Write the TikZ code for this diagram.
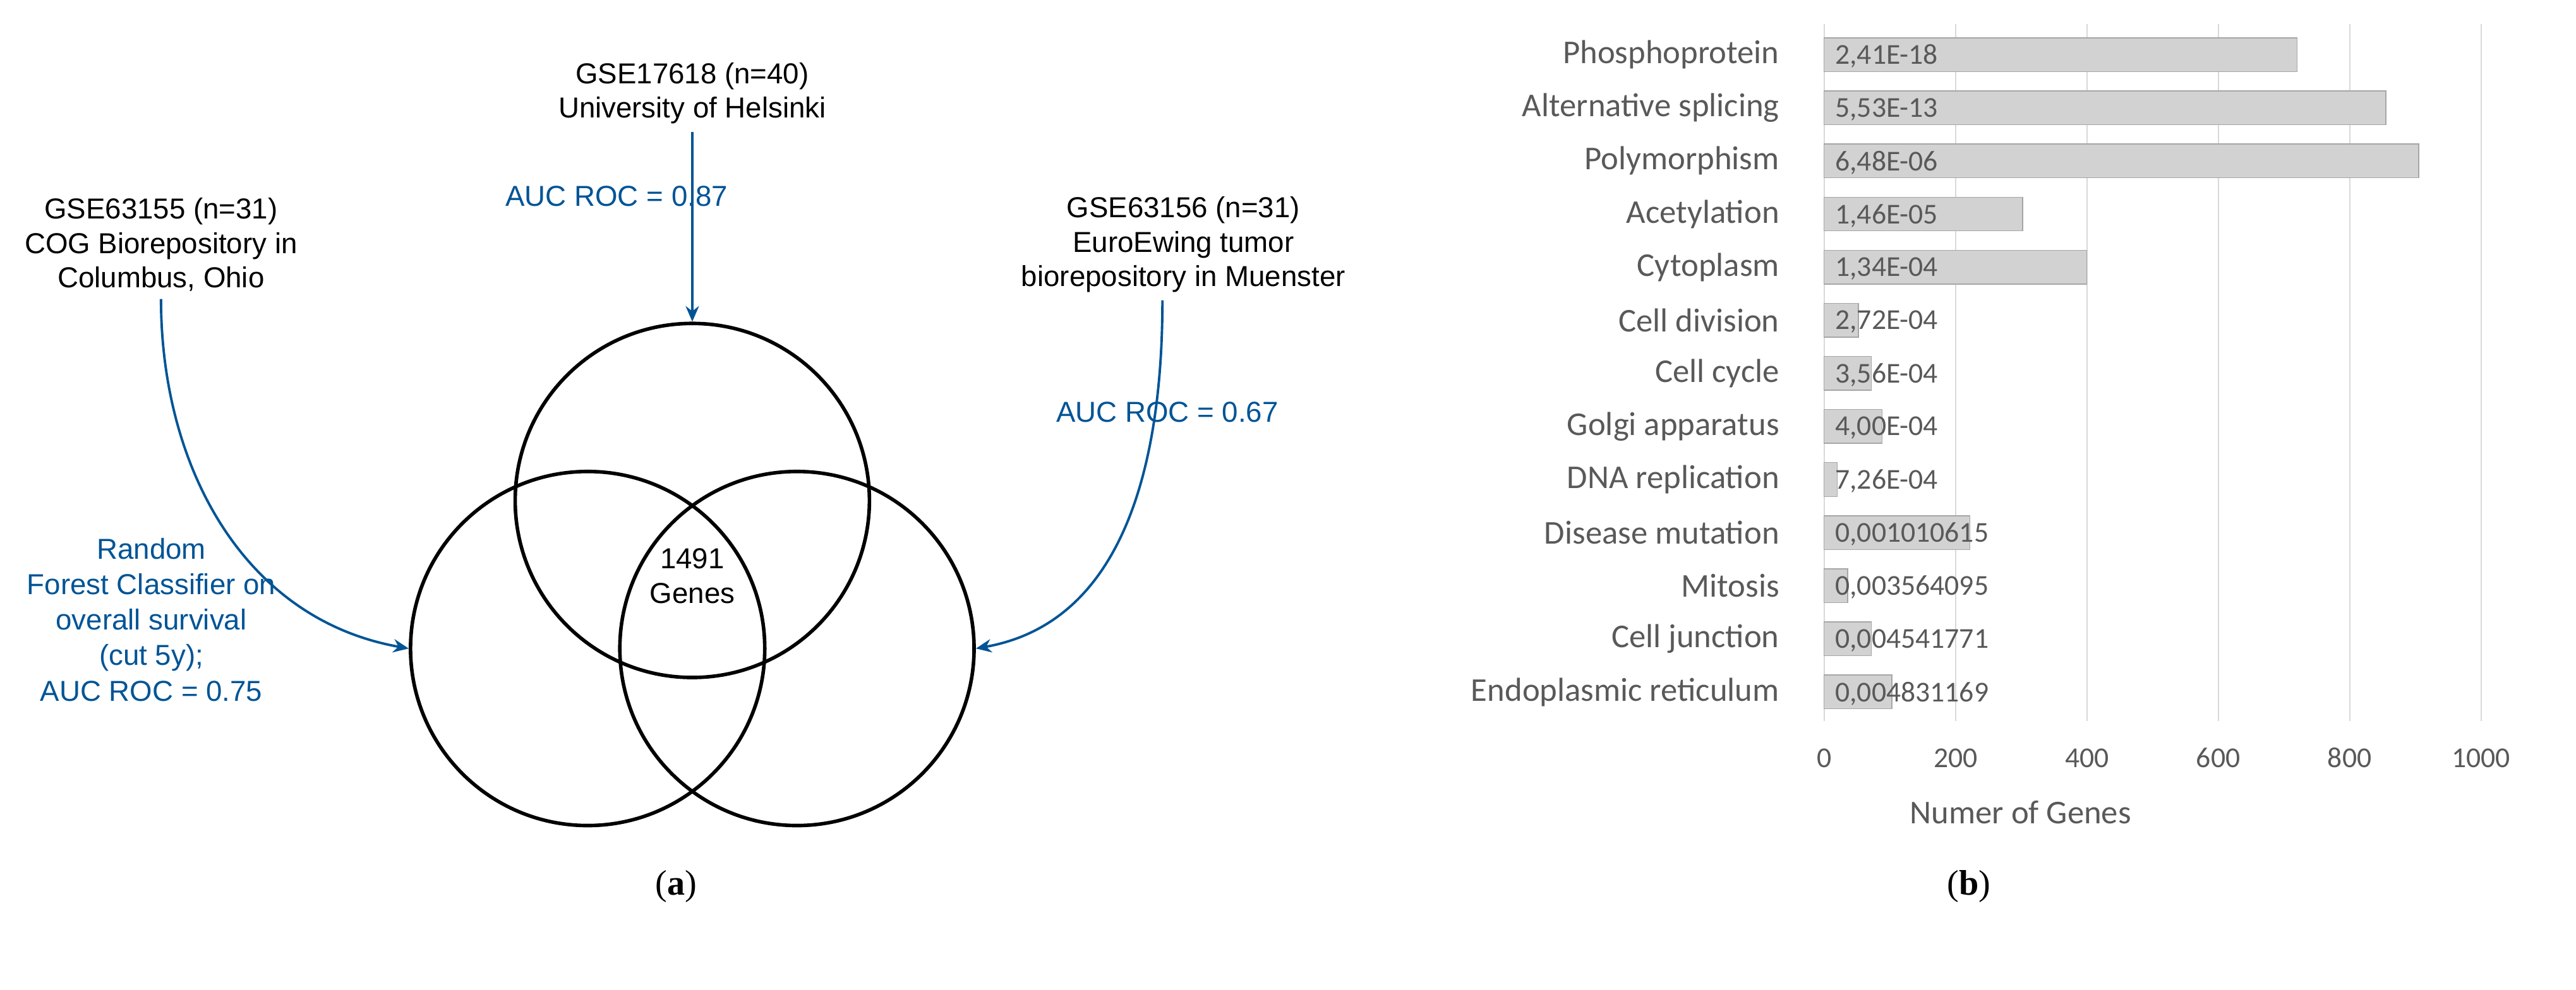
\documentclass[tikz,border=0pt]{standalone}
\usepackage{fontspec}
\setmainfont{Liberation Sans}
\newfontfamily\calfont{Carlito}
\newfontfamily\serffont{Liberation Serif}
\usetikzlibrary{arrows.meta}
\definecolor{aucblue}{RGB}{0,84,150}
\definecolor{axgray}{RGB}{89,89,89}
\tikzset{
  src/.style={align=center,font=\fontsize{13}{15.5}\selectfont},
  auc/.style={align=center,text=aucblue,font=\fontsize{13}{16}\selectfont},
  venn/.style={draw,circle,line width=1.6pt,minimum size=5.61cm},
  flow/.style={draw=aucblue,line width=1.1pt,-{Stealth[length=7pt,width=6pt]}},
  cat/.style={anchor=east,text=axgray,font=\calfont\fontsize{15}{17}\selectfont},
  val/.style={anchor=west,text=axgray,font=\calfont\fontsize{13}{15}\selectfont},
  bar/.style={draw=gray!70,fill=gray!35}
}
\begin{document}
\begin{tikzpicture}[x=0.02549cm,y=-0.02549cm]
\useasboundingbox (0,0) rectangle (1600,615);

% venn diagram
\node[venn] (vtop) at (430,311) {};
\node[venn] (vleft) at (365,403) {};
\node[venn] (vright) at (495,403) {};
\node[src] (core) at (430,358) {1491\\Genes};

\node[src] (hel) at (430,58) {GSE17618 (n=40)\\University of Helsinki};
\node[src] (cog) at (100,152) {GSE63155 (n=31)\\COG Biorepository in\\Columbus, Ohio};
\node[src] (euro) at (735,152) {GSE63156 (n=31)\\EuroEwing tumor\\biorepository in Muenster};

\node[auc] (auctop) at (383,122) {AUC ROC = 0.87};
\node[auc] (aucleft) at (94,385) {Random\\Forest Classifier on\\overall survival\\(cut 5y);\\AUC ROC = 0.75};
\node[auc] (aucright) at (725,256) {AUC ROC = 0.67};

\draw[flow] (hel.south) -- (vtop.north);
\draw[flow] (cog.south) to[out=-90,in=170] (vleft.west);
\draw[flow] (euro.south -| 722,0) to[out=-90,in=10] (vright.east);

\node[font=\serffont\fontsize{16}{19}\selectfont] (capa) at (420,551) {(\textbf{a})};
\node[font=\serffont\fontsize{16}{19}\selectfont] (capb) at (1223,551) {(\textbf{b})};

% bar chart
\foreach \g in {0,200,...,1000}{
  \draw[gray!30,line width=0.6pt] ({1133+0.408*\g},15) -- ({1133+0.408*\g},448);
  \node[text=axgray,font=\calfont\fontsize{13}{15}\selectfont] (tick\g) at ({1133+0.408*\g},471) {\g};
}
\foreach \lab/\n/\p [count=\i from 0] in {
  Phosphoprotein/720/{2,41E-18},
  Alternative splicing/855/{5,53E-13},
  Polymorphism/905/{6,48E-06},
  Acetylation/302/{1,46E-05},
  Cytoplasm/400/{1,34E-04},
  Cell division/52/{2,72E-04},
  Cell cycle/72/{3,56E-04},
  Golgi apparatus/88/{4,00E-04},
  DNA replication/20/{7,26E-04},
  Disease mutation/222/{0,001010615},
  Mitosis/36/{0,003564095},
  Cell junction/72/{0,004541771},
  Endoplasmic reticulum/103/{0,004831169}}{
  \draw[bar] (1133,{34+33*\i-10.5}) rectangle ({1133+0.408*\n},{34+33*\i+10.5});
  \node[cat] (cat\i) at (1110,{34+33*\i}) {\lab};
  \node[val] (val\i) at (1135,{35+33*\i}) {\p};
}
\node[text=axgray,font=\calfont\fontsize{15}{17}\selectfont] (xtitle) at (1255,505) {Numer of Genes};

\end{tikzpicture}
\end{document}
